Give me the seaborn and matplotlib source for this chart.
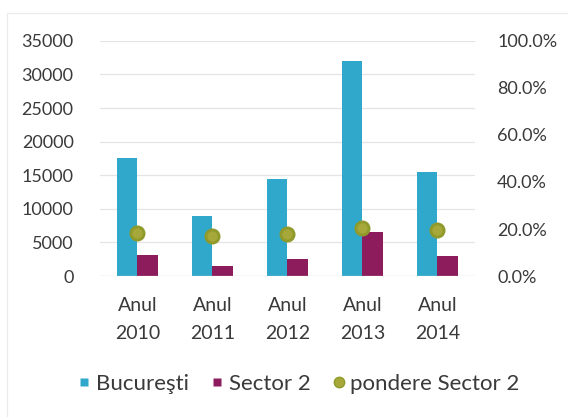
import matplotlib
matplotlib.use("Agg")
import matplotlib.pyplot as plt
from matplotlib.patches import Rectangle
from matplotlib.lines import Line2D
from matplotlib.ticker import FuncFormatter
import seaborn as sns
import pandas as pd

# Values per year
years = ["Anul\n2010", "Anul\n2011", "Anul\n2012", "Anul\n2013", "Anul\n2014"]
bucuresti = [17500, 9000, 14500, 32000, 15500]
sector2 = [3200, 1500, 2600, 6500, 3000]
pondere = [0.183, 0.170, 0.180, 0.205, 0.195]

series_names = ["Bucureşti", "Sector 2"]
colors = {"Bucureşti": "#2fa8cb", "Sector 2": "#8c1c5c"}
dot_color = "#a6a83a"
dot_edge = "#8f9a2a"
text_color = "#3a3a3a"

df = pd.DataFrame({
    "an": years * 2,
    "serie": [series_names[0]] * len(years) + [series_names[1]] * len(years),
    "valoare": bucuresti + sector2,
})
df_p = pd.DataFrame({"an": years, "pondere": pondere})

sns.set_theme(style="white")
plt.rcParams["font.family"] = ["Lato", "DejaVu Sans"]

fig = plt.figure(figsize=(5.68, 4.17), dpi=100)
ax = fig.add_axes([0.176, 0.338, 0.660, 0.564])

sns.barplot(data=df, x="an", y="valoare", hue="serie", palette=colors,
            width=0.55, saturation=1, ax=ax, legend=False, edgecolor="none")

ax.set_ylim(0, 35000)
ax.set_yticks(range(0, 35001, 5000))
ax.set_xlim(-0.5, 4.5)
ax.grid(axis="y", color="#e4e4e4", linewidth=0.9)
ax.set_axisbelow(True)
for s in ax.spines.values():
    s.set_visible(False)
ax.axhline(0, color="#d9d9d9", linewidth=0.9, zorder=1)
ax.set_xlabel("")
ax.set_ylabel("")
ax.tick_params(axis="y", length=0, pad=19, labelsize=13, labelcolor=text_color)
ax.tick_params(axis="x", length=0, pad=15, labelsize=14, labelcolor=text_color)
for lbl in ax.get_xticklabels():
    lbl.set_linespacing(1.8)

ax2 = ax.twinx()
sns.pointplot(data=df_p, x="an", y="pondere", linestyle="none", markers="o",
              color=dot_color, markersize=9.5, ax=ax2, zorder=5)
for ln in ax2.lines:
    ln.set_markeredgecolor(dot_edge)
for coll in ax2.collections:
    coll.set_edgecolor(dot_edge)
ax2.set_xlim(-0.5, 4.5)
ax2.set_ylim(0, 1.0)
ax2.set_yticks([0, 0.2, 0.4, 0.6, 0.8, 1.0])
ax2.yaxis.set_major_formatter(FuncFormatter(lambda v, _: f"{v * 100:.1f}%"))
ax2.set_ylabel("")
ax2.set_xlabel("")
for s in ax2.spines.values():
    s.set_visible(False)
ax2.tick_params(axis="y", length=0, pad=16, labelsize=13, labelcolor=text_color)
ax2.grid(False)

handles = [
    Line2D([], [], marker="s", linestyle="none", markersize=6,
           markerfacecolor=colors["Bucureşti"], markeredgecolor="none"),
    Line2D([], [], marker="s", linestyle="none", markersize=6,
           markerfacecolor=colors["Sector 2"], markeredgecolor="none"),
    Line2D([], [], marker="o", linestyle="none", markersize=7.5,
           markerfacecolor=dot_color, markeredgecolor=dot_edge),
]
fig.legend(handles, ["Bucureşti", "Sector 2", "pondere Sector 2"],
           loc="center", bbox_to_anchor=(0.526, 0.080), ncol=3, frameon=False,
           fontsize=16, labelcolor=text_color, handletextpad=0.2,
           columnspacing=1.0, handlelength=0.6)

# faint chart frame
fig.patches.append(Rectangle((0.012, -0.02), 1.0, 0.989, transform=fig.transFigure,
                             fill=False, edgecolor="#ececec", linewidth=1.0))

fig.savefig("out.png", dpi=100, facecolor="white")
